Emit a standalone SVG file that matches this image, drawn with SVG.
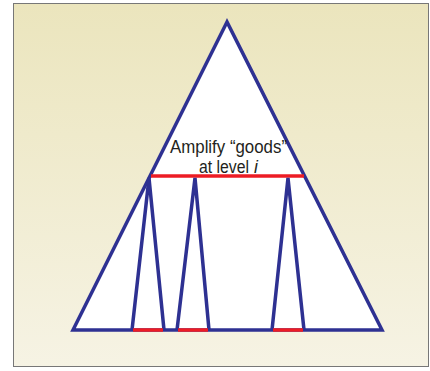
<svg xmlns="http://www.w3.org/2000/svg" width="430" height="371" viewBox="0 0 430 371">
<defs>
<linearGradient id="bg" x1="0" y1="0" x2="0" y2="1">
<stop offset="0" stop-color="#ebe5bd"/>
<stop offset="1" stop-color="#f6f3e4"/>
</linearGradient>
<style>
.tri{fill:#fff;stroke:#2e3192;stroke-width:3.5;stroke-linejoin:miter}
.sub{fill:none;stroke:#2e3192;stroke-width:3.5;stroke-linejoin:miter}
.red{stroke:#ed1c24;stroke-width:3.5;fill:none}
.lbl{font-family:"Liberation Sans",Arial,sans-serif;font-size:17.5px;fill:#231f20}
</style>
</defs>
<rect x="13.5" y="3.5" width="415" height="363" fill="url(#bg)" stroke="#777" stroke-width="1"/>
<g id="tree">
<polygon class="tri" points="227,22 73,330 382,330"/>
</g>
<g id="label">
<text class="lbl" x="170" y="153" textLength="117" lengthAdjust="spacingAndGlyphs">Amplify “goods”</text>
<text class="lbl" x="199" y="173" textLength="50" lengthAdjust="spacingAndGlyphs">at level</text>
<text class="lbl" x="254" y="173" font-style="italic">i</text>
</g>
<g id="connectors">
<line class="red" x1="151" y1="176" x2="304" y2="176"/>
<polyline class="sub" points="132,330 149,178 164,330"/>
<polyline class="sub" points="177,330 195,178 209,330"/>
<polyline class="sub" points="272,330 288,178 304,330"/>
<line class="red" x1="133" y1="330" x2="163" y2="330"/>
<line class="red" x1="178" y1="330" x2="208" y2="330"/>
<line class="red" x1="273" y1="330" x2="303" y2="330"/>
</g>
</svg>
